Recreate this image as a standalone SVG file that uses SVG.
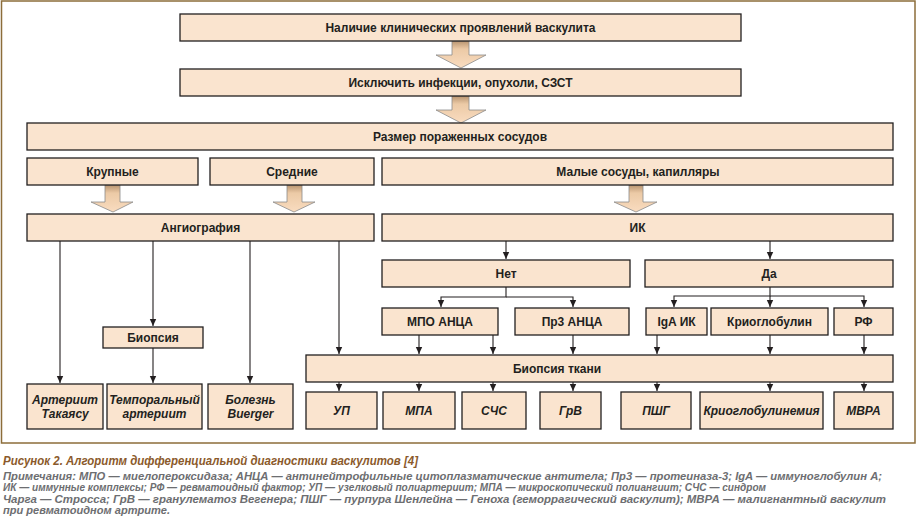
<svg xmlns="http://www.w3.org/2000/svg" width="918" height="526" viewBox="0 0 918 526">
<defs>
<style>
.b{fill:#fae4cf;stroke:#231f20;stroke-width:1.3}
.t{font-family:"Liberation Sans",Arial,sans-serif;font-weight:bold;font-size:12px;fill:#231f20;text-anchor:middle}
.i{font-style:italic}
.c{fill:none;stroke:#231f20;stroke-width:1.1}
.ba{fill:url(#g);stroke:#8a8a8a;stroke-width:0.8}
.cap{font-family:"Liberation Sans",Arial,sans-serif;font-weight:bold;font-style:italic;font-size:12px;fill:#8b5a2b}
.n{font-family:"Liberation Sans",Arial,sans-serif;font-weight:bold;font-style:italic;font-size:11.5px;fill:#6d6e71}
</style>
<linearGradient id="g" x1="0" y1="0" x2="0" y2="1">
<stop offset="0" stop-color="#b89470"/>
<stop offset="0.3" stop-color="#eccaa6"/>
<stop offset="1" stop-color="#f9dcc0"/>
</linearGradient>
<marker id="a" markerWidth="8" markerHeight="8" refX="7" refY="4" orient="auto" markerUnits="userSpaceOnUse">
<path d="M0,0.8 L7,4 L0,7.2 Z" fill="#231f20"/>
</marker>
</defs>
<rect x="0" y="0" width="918" height="526" fill="#ffffff"/>
<rect x="1.5" y="1" width="913.5" height="442" fill="none" stroke="#8c6d3a" stroke-width="1.5"/>

<g id="block-arrows">
<path class="ba" d="M452,41 H469 V55 H486 L461,68 L436,55 H452 Z"/>
<path class="ba" d="M452,96 H469 V110 H486 L461,123 L436,110 H452 Z"/>
<path class="ba" d="M105,185 H120 V202 H133 L113,212 L91,202 H105 Z"/>
<path class="ba" d="M287,185 H302 V202 H315 L294,212 L273,202 H287 Z"/>
<path class="ba" d="M629,185 H643 V202 H657 L636,212 L614,202 H629 Z"/>
</g>

<g id="connectors">
<path class="c" d="M60,241 V383" marker-end="url(#a)"/>
<path class="c" d="M153,241 V326" marker-end="url(#a)"/>
<path class="c" d="M153,348 V383" marker-end="url(#a)"/>
<path class="c" d="M250,241 V383" marker-end="url(#a)"/>
<path class="c" d="M339,241 V354" marker-end="url(#a)"/>
<path class="c" d="M506,241 V259" marker-end="url(#a)"/>
<path class="c" d="M770,241 V259" marker-end="url(#a)"/>
<path class="c" d="M506,287 V297 H441 V307" marker-end="url(#a)"/>
<path class="c" d="M506,297 H573 V307" marker-end="url(#a)"/>
<path class="c" d="M770,287 V296 H674 V307" marker-end="url(#a)"/>
<path class="c" d="M770,296 V307" marker-end="url(#a)"/>
<path class="c" d="M770,296 H864 V307" marker-end="url(#a)"/>
<path class="c" d="M419,335 V354" marker-end="url(#a)"/>
<path class="c" d="M493,335 V354" marker-end="url(#a)"/>
<path class="c" d="M573,335 V354" marker-end="url(#a)"/>
<path class="c" d="M657,335 V354" marker-end="url(#a)"/>
<path class="c" d="M770,335 V354" marker-end="url(#a)"/>
<path class="c" d="M864,335 V354" marker-end="url(#a)"/>
<path class="c" d="M339,382 V391" marker-end="url(#a)"/>
<path class="c" d="M419,382 V391" marker-end="url(#a)"/>
<path class="c" d="M493,382 V391" marker-end="url(#a)"/>
<path class="c" d="M573,382 V391" marker-end="url(#a)"/>
<path class="c" d="M657,382 V391" marker-end="url(#a)"/>
<path class="c" d="M770,382 V391" marker-end="url(#a)"/>
<path class="c" d="M864,382 V391" marker-end="url(#a)"/>
</g>

<g id="n-nalichie"><rect class="b" x="180" y="14" width="561" height="27"/><text class="t" x="460.5" y="32">Наличие клинических проявлений васкулита</text></g>
<g id="n-isklyuchit"><rect class="b" x="180" y="69" width="561" height="27"/><text class="t" x="460.5" y="87">Исключить инфекции, опухоли, СЗСТ</text></g>
<g id="n-razmer"><rect class="b" x="27" y="123" width="866" height="27"/><text class="t" x="460" y="141">Размер пораженных сосудов</text></g>
<g id="n-krupnye"><rect class="b" x="27" y="158" width="171" height="27"/><text class="t" x="112.5" y="176">Крупные</text></g>
<g id="n-srednie"><rect class="b" x="210" y="158" width="164" height="27"/><text class="t" x="292" y="176">Средние</text></g>
<g id="n-malye"><rect class="b" x="382" y="158" width="511" height="27"/><text class="t" x="638" y="176">Малые сосуды, капилляры</text></g>
<g id="n-angio"><rect class="b" x="27" y="214" width="347" height="27"/><text class="t" x="200.5" y="232">Ангиография</text></g>
<g id="n-ik"><rect class="b" x="382" y="214" width="511" height="27"/><text class="t" x="637.5" y="232">ИК</text></g>
<g id="n-net"><rect class="b" x="382" y="260" width="248" height="27"/><text class="t" x="506" y="278">Нет</text></g>
<g id="n-da"><rect class="b" x="645" y="260" width="248" height="27"/><text class="t" x="769" y="278">Да</text></g>
<g id="n-mpo"><rect class="b" x="382" y="308" width="116" height="27"/><text class="t" x="440" y="326">МПО АНЦА</text></g>
<g id="n-pr3"><rect class="b" x="515" y="308" width="114" height="27"/><text class="t" x="572" y="326">Пр3 АНЦА</text></g>
<g id="n-iga"><rect class="b" x="646" y="308" width="61" height="27"/><text class="t" x="676.5" y="326">IgA ИК</text></g>
<g id="n-krio"><rect class="b" x="711" y="308" width="117" height="27"/><text class="t" x="769.5" y="326">Криоглобулин</text></g>
<g id="n-rf"><rect class="b" x="834" y="308" width="59" height="27"/><text class="t" x="863.5" y="326">РФ</text></g>
<g id="n-biopsiya"><rect class="b" x="103" y="327" width="100" height="21"/><text class="t" x="153" y="342">Биопсия</text></g>
<g id="n-biopsiya-tkani"><rect class="b" x="306" y="355" width="587" height="27"/><text class="t" x="557" y="373">Биопсия ткани</text></g>
<g id="n-takayasu"><rect class="b" x="27" y="384" width="76" height="45"/><text class="t i" x="65" y="404">Артериит</text><text class="t i" x="65" y="418">Такаясу</text></g>
<g id="n-temporal"><rect class="b" x="107" y="384" width="95" height="45"/><text class="t i" x="154.5" y="404">Темпоральный</text><text class="t i" x="154.5" y="418">артериит</text></g>
<g id="n-buerger"><rect class="b" x="208" y="384" width="85" height="45"/><text class="t i" x="250.5" y="404">Болезнь</text><text class="t i" x="250.5" y="418">Buerger</text></g>
<g id="n-up"><rect class="b" x="306" y="392" width="71" height="37"/><text class="t i" x="341.5" y="415">УП</text></g>
<g id="n-mpa"><rect class="b" x="383" y="392" width="72" height="37"/><text class="t i" x="419" y="415">МПА</text></g>
<g id="n-schs"><rect class="b" x="462" y="392" width="64" height="37"/><text class="t i" x="494" y="415">СЧС</text></g>
<g id="n-grv"><rect class="b" x="540" y="392" width="61" height="37"/><text class="t i" x="570.5" y="415">ГрВ</text></g>
<g id="n-pshg"><rect class="b" x="621" y="392" width="70" height="37"/><text class="t i" x="656" y="415">ПШГ</text></g>
<g id="n-krioglob"><rect class="b" x="700" y="392" width="123" height="37"/><text class="t i" x="761.5" y="415">Криоглобулинемия</text></g>
<g id="n-mvra"><rect class="b" x="834" y="392" width="59" height="37"/><text class="t i" x="863.5" y="415">МВРА</text></g>

<g id="caption">
<text class="cap" x="3" y="465" textLength="415" lengthAdjust="spacingAndGlyphs">Рисунок 2. Алгоритм дифференциальной диагностики васкулитов [4]</text>
<text class="n" x="3" y="479.5" textLength="879" lengthAdjust="spacingAndGlyphs">Примечания: МПО — миелопероксидаза; АНЦА — антинейтрофильные цитоплазматические антитела; Пр3 — протеиназа-3; IgA — иммуноглобулин А;</text>
<text class="n" x="3" y="491" textLength="763" lengthAdjust="spacingAndGlyphs">ИК — иммунные комплексы; РФ — ревматоидный фактор; УП — узелковый полиартериит; МПА — микроскопический полиангиит; СЧС — синдром</text>
<text class="n" x="3" y="502.5" textLength="883" lengthAdjust="spacingAndGlyphs">Чарга — Стросса; ГрВ — гранулематоз Вегенера; ПШГ — пурпура Шенлейна — Геноха (геморрагический васкулит); МВРА — малигнантный васкулит</text>
<text class="n" x="3" y="514" textLength="167" lengthAdjust="spacingAndGlyphs">при ревматоидном артрите.</text>
</g>
</svg>
